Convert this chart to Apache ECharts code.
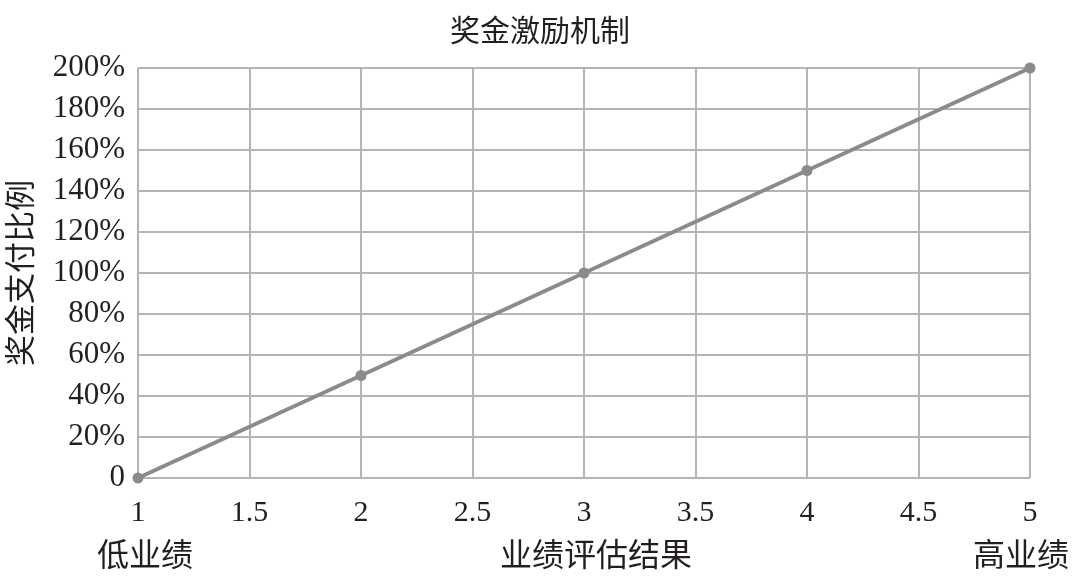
<!DOCTYPE html>
<html><head><meta charset="utf-8">
<script src="https://cdn.jsdelivr.net/npm/echarts@6/dist/echarts.min.js"></script>
<style>html,body{margin:0;padding:0;background:#fff}#c{width:1080px;height:580px}</style>
</head><body><div id="c"></div>
<script>
const titleText = '奖金激励机制';
const yAxisName = '奖金支付比例';
const xAxisName = '业绩评估结果';
const lowLabel = '低业绩';
const highLabel = '高业绩';
const xValues = [1, 2, 3, 4, 5];
const yValues = [0, 50, 100, 150, 200];

const FONT = '"Liberation Serif", "Noto Sans CJK SC", serif';
const TXT = '#231f20';
const GRID = '#b4b4b6';
const LINE = '#8a8b8d';

const chart = echarts.init(document.getElementById('c'));
chart.setOption({
  backgroundColor: '#fff',
  animation: false,
  title: {
    text: titleText, left: 'center', top: 13,
    textStyle: { fontFamily: FONT, fontSize: 30, fontWeight: 'normal', color: TXT }
  },
  grid: { left: 138, right: 50, top: 68, bottom: 102, containLabel: false, outerBoundsMode: 'none' },
  xAxis: {
    type: 'value', min: 1, max: 5, interval: 0.5,
    axisLine: { show: false },
    axisTick: { show: false },
    axisLabel: { margin: 20, fontFamily: FONT, fontSize: 30, color: TXT },
    splitLine: { show: true, lineStyle: { color: GRID, width: 2 } }
  },
  yAxis: {
    type: 'value', min: 0, max: 200, interval: 20,
    name: yAxisName, nameLocation: 'middle', nameGap: 100, nameRotate: 90,
    nameTextStyle: { fontFamily: FONT, fontSize: 31, color: TXT },
    axisLine: { show: false },
    axisTick: { show: false },
    axisLabel: { margin: 13, fontFamily: FONT, fontSize: 31, color: TXT,
      formatter: v => v === 0 ? '0' : v + '%' },
    splitLine: { show: true, lineStyle: { color: GRID, width: 2 } }
  },
  graphic: [
    { type: 'text', left: 97, top: 542, style: { text: lowLabel, font: '32px ' + FONT, fill: TXT } },
    { type: 'text', left: 500, top: 542, style: { text: xAxisName, font: '32px ' + FONT, fill: TXT } },
    { type: 'text', left: 973, top: 542, style: { text: highLabel, font: '32px ' + FONT, fill: TXT } }
  ],
  series: [{
    type: 'line',
    data: xValues.map((x, i) => [x, yValues[i]]),
    symbol: 'circle', symbolSize: 11,
    lineStyle: { color: LINE, width: 4 },
    itemStyle: { color: LINE },
    clip: false
  }]
});
</script></body></html>
